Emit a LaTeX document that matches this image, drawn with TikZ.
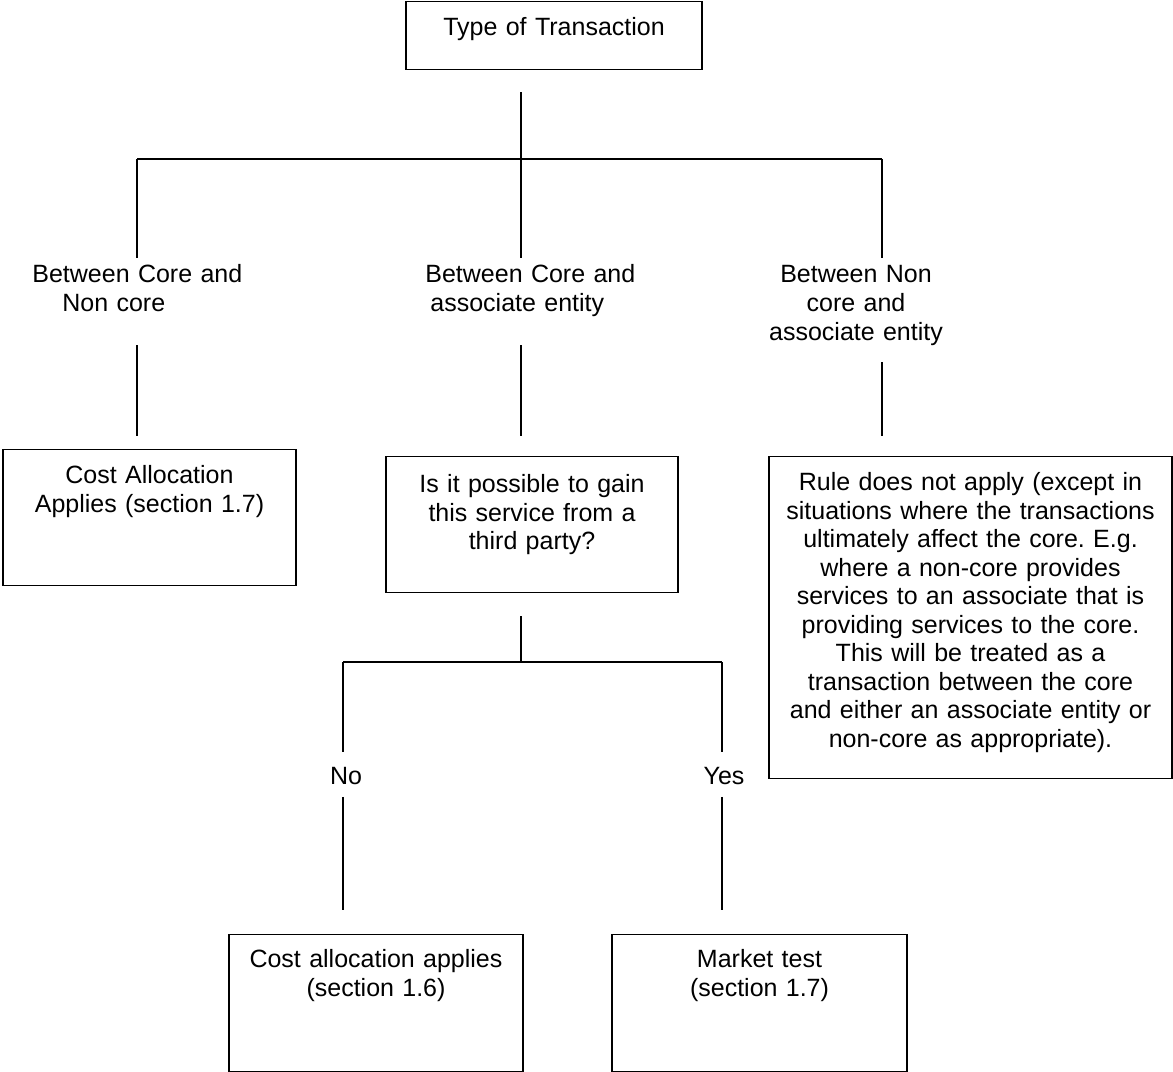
\documentclass[tikz,border=0pt]{standalone}
\usepackage{fontspec}
\setmainfont{Liberation Sans}
\frenchspacing
\usetikzlibrary{positioning}

\tikzset{
  box/.style={draw, line width=0.6pt, inner sep=0pt, anchor=north, align=center,
              font=\fontsize{12}{13.7}\selectfont},
  lbl/.style={inner sep=0pt, anchor=base, align=center, text width=110pt,
              font=\fontsize{12}{13.7}\selectfont},
  lbll/.style={lbl, anchor=base west, align=left},
  conn/.style={line width=0.6pt},
}

\begin{document}
\begin{tikzpicture}[x=0.48pt, y=-0.48pt]
\useasboundingbox (0,0) rectangle (1173,1072);

% boxes
\node[box, text width=142.1pt, text height=16.3pt, text depth=16.3pt] (type) at (554,1) {Type of Transaction};
\node[box, text width=140.6pt, text height=16.3pt, text depth=49pt] (costA) at (149.5,449) {Cost Allocation\\Applies (section 1.7)};
\node[box, text width=140.2pt, text height=17.3pt, text depth=48pt] (third) at (532,456) {Is it possible to gain\\this service from a\\third party?};
\node[box, text width=193.4pt, text height=16.3pt, text depth=138.3pt] (rule) at (970.5,456)
  {Rule does not apply (except in\\situations where the transactions\\ultimately affect the core. E.g.\\where a non-core provides\\services to an associate that is\\providing services to the core.\\This will be treated as a\\transaction between the core\\and either an associate entity or\\non-core as appropriate).};
\node[box, text width=141.1pt, text height=15.8pt, text depth=50pt] (costB) at (376,934) {Cost allocation applies\\(section 1.6)};
\node[box, text width=141.6pt, text height=15.8pt, text depth=50pt] (market) at (759.5,934) {Market test\\(section 1.7)};

% labels
\node[lbll] (lblL) at (32,283) {Between Core and\\\hspace*{14.4pt}Non core};
\node[lbll] (lblM) at (425,283) {Between Core and\\\hspace*{2.4pt}associate entity};
\node[lbl] (lblR) at (856,283) {Between Non\\core and\\associate entity};
\node[lbl] (no) at (346,784) {No};
\node[lbl] (yes) at (724,784) {Yes};

% first branch
\coordinate (hub) at (521,159);
\coordinate (hubL) at (137,159);
\coordinate (hubR) at (882,159);
\draw[conn] ([yshift=-10.6pt]type.south -| hub) -- (hub);
\draw[conn] (hubL) -- (hubR);
\draw[conn] (hubL) -- ([yshift=12pt]lblL.base -| hubL);
\draw[conn] (hub) -- ([yshift=12pt]lblM.base -| hub);
\draw[conn] (hubR) -- ([yshift=12pt]lblR.base -| hubR);
\draw[conn] ([yshift=-29.8pt]lblL.base -| hubL) -- ([yshift=6.2pt]costA.north -| hubL);
\draw[conn] ([yshift=-29.8pt]lblM.base -| hub) -- ([yshift=9.6pt]third.north -| hub);
\draw[conn] ([yshift=-38pt]lblR.base -| hubR) -- ([yshift=9.6pt]rule.north -| hubR);

% second branch
\coordinate (hub2) at (521,662);
\coordinate (hubNo) at (343,662);
\coordinate (hubYes) at (722,662);
\draw[conn] ([yshift=-11pt]third.south -| hub2) -- (hub2);
\draw[conn] (hubNo) -- (hubYes);
\draw[conn] (hubNo) -- ([yshift=15.4pt]no.base -| hubNo);
\draw[conn] (hubYes) -- ([yshift=15.4pt]yes.base -| hubYes);
\draw[conn] ([yshift=-6.2pt]no.base -| hubNo) -- ([yshift=11.5pt]costB.north -| hubNo);
\draw[conn] ([yshift=-6.2pt]yes.base -| hubYes) -- ([yshift=11.5pt]market.north -| hubYes);
\end{tikzpicture}
\end{document}
